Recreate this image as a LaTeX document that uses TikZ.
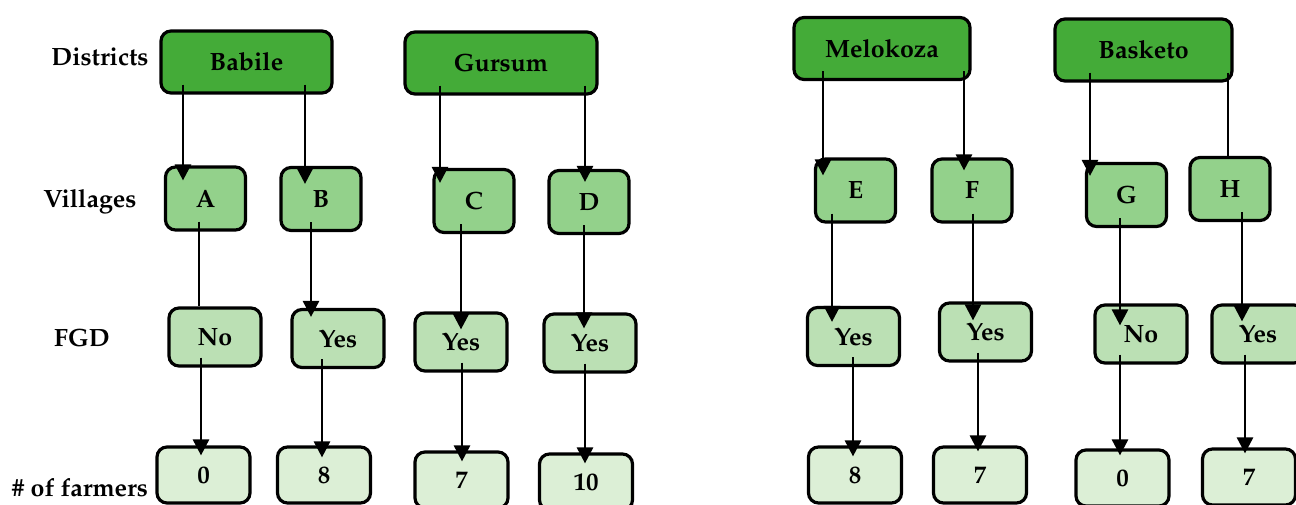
\documentclass[tikz,border=0pt]{standalone}
\usepackage[T1]{fontenc}
\usepackage{mathpazo}
\usepackage{xcolor}
\usetikzlibrary{arrows.meta}

\definecolor{distfill}{RGB}{68,171,56}
\definecolor{villfill}{RGB}{147,209,139}
\definecolor{fgdfill}{RGB}{187,224,180}
\definecolor{farmfill}{RGB}{220,239,214}

\tikzset{
  cell/.style={draw=black, line width=1.6pt, rounded corners=5pt, inner sep=0pt,
    font=\fontsize{12.5}{14}\selectfont\bfseries},
  district/.style={cell, fill=distfill, minimum height=31pt},
  village/.style={cell, fill=villfill, minimum width=40pt, minimum height=31.5pt},
  fgd/.style={cell, fill=fgdfill, minimum width=46pt, minimum height=29pt},
  farmer/.style={cell, fill=farmfill, minimum width=46.5pt, minimum height=28pt},
  rowlabel/.style={font=\fontsize{12.5}{14}\selectfont\bfseries},
  arr/.style={line width=1.4pt, -{Triangle[width=8pt,length=8pt]}},
  plain/.style={line width=1.4pt}
}

% link from box #2 down into box #3 at column #4, tip #5 px inside #3
\newcommand{\lnk}[5][arr]{%
  \coordinate (lx) at (#4,0);
  \path (#2.south) ++(0,-10) coordinate (ls) (#3.north) ++(0,#5) coordinate (lt);
  \draw[#1] (lx |- ls) -- (lx |- lt);}

\begin{document}
\begin{tikzpicture}[x=0.5pt, y=-0.5pt]
\useasboundingbox (0,0) rectangle (1296,504);

% Row labels
\node[rowlabel] (lDist) at (100,57) {Districts};
\node[rowlabel] (lVill) at (90,202) {Villages};
\node[rowlabel] (lFgd) at (82,338) {FGD};
\node[rowlabel] (lFarm) at (80,488) {\# of farmers};

% Districts
\node[district, minimum width=85.5pt] (babile) at (246.5,62) {Babile};
\node[district, minimum width=96pt] (gursum) at (501,63) {Gursum};
\node[district, minimum width=88pt] (melokoza) at (882,48.5) {Melokoza};
\node[district, minimum width=88.5pt] (basketo) at (1143.5,50) {Basketo};

% Villages
\node[village] (A) at (205.5,198.5) {A};
\node[village] (B) at (321,199) {B};
\node[village] (C) at (474,201) {C};
\node[village] (D) at (589,202) {D};
\node[village] (E) at (855.5,190.5) {E};
\node[village] (F) at (972,190.5) {F};
\node[village] (G) at (1126.5,195) {G};
\node[village] (H) at (1230,189) {H};

% FGD
\node[fgd] (fA) at (215,337) {No};
\node[fgd] (fB) at (338,338.5) {Yes};
\node[fgd] (fC) at (461,342) {Yes};
\node[fgd] (fD) at (590,343) {Yes};
\node[fgd] (fE) at (853.5,336.5) {Yes};
\node[fgd] (fF) at (985.5,332) {Yes};
\node[fgd] (fG) at (1141,334) {No};
\node[fgd] (fH) at (1258,334) {Yes};

% Number of farmers
\node[farmer] (nA) at (203.5,475) {0};
\node[farmer] (nB) at (324,475) {8};
\node[farmer] (nC) at (461.5,480) {7};
\node[farmer] (nD) at (586,482) {10};
\node[farmer] (nE) at (855,475) {8};
\node[farmer] (nF) at (980,475) {7};
\node[farmer] (nG) at (1122.5,478) {0};
\node[farmer] (nH) at (1249,477) {7};

% Districts to villages
\lnk{babile}{A}{183}{15}
\lnk{babile}{B}{305}{18}
\lnk{gursum}{C}{440}{15}
\lnk{gursum}{D}{585}{13}
\lnk{melokoza}{E}{823}{18}
\lnk{melokoza}{F}{964}{13}
\lnk{basketo}{G}{1090}{14}
\lnk[plain]{basketo}{H}{1228}{0}

% Villages to FGD
\lnk[plain]{A}{fA}{199}{0}
\lnk{B}{fB}{311}{9}
\lnk{C}{fC}{461}{18}
\lnk{D}{fD}{584}{16}
\lnk{E}{fE}{832}{16}
\lnk{F}{fF}{973}{19}
\lnk{G}{fG}{1120}{22}
\lnk{H}{fH}{1242}{18}

% FGD to farmers
\lnk{fA}{nA}{201}{10}
\lnk{fB}{nB}{322}{12}
\lnk{fC}{nC}{462}{11}
\lnk{fD}{nD}{585}{11}
\lnk{fE}{nE}{853}{11}
\lnk{fF}{nF}{978}{6}
\lnk{fG}{nG}{1120}{7}
\lnk{fH}{nH}{1245}{6}

\end{tikzpicture}
\end{document}
